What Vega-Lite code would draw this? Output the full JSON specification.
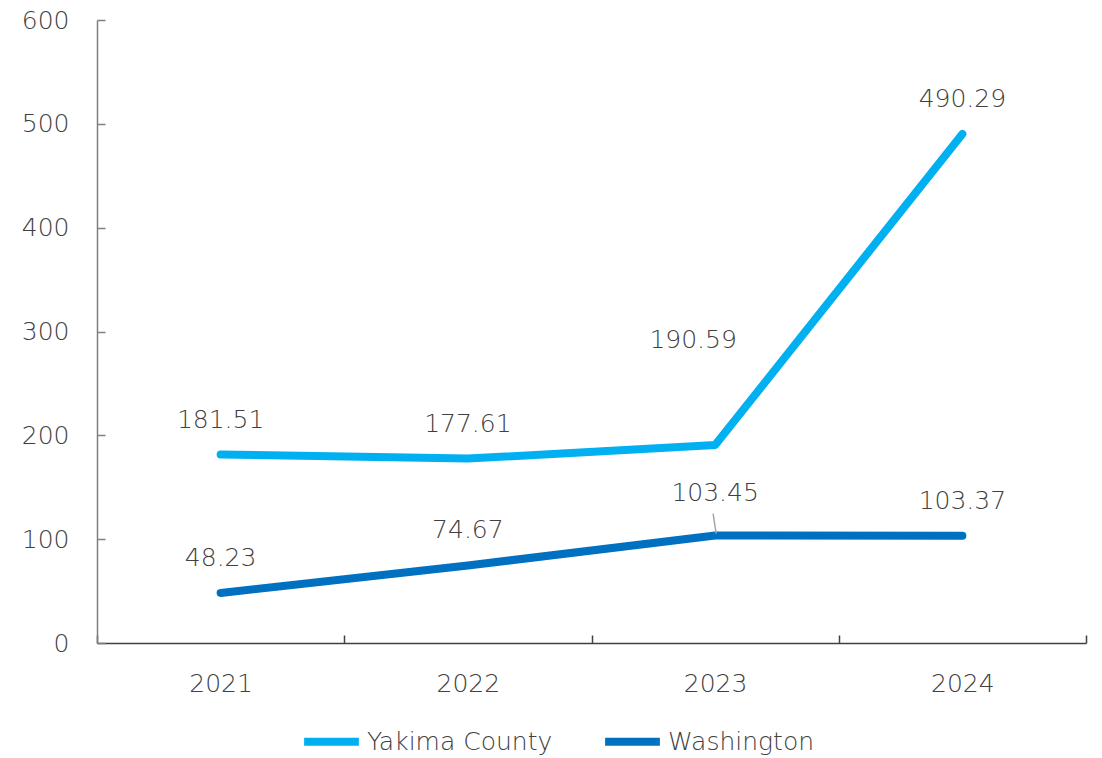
{
  "$schema": "https://vega.github.io/schema/vega-lite/v6.json",
  "autosize": {"type": "none"},
  "width": 989,
  "height": 623,
  "padding": {"left": 97, "top": 20, "right": 16, "bottom": 115},
  "background": "white",
  "config": {
    "view": {"stroke": null},
    "font": "DejaVu Sans",
    "axis": {"grid": false, "labelFont": "DejaVu Sans", "labelFontWeight": 200, "labelFontSize": 25, "labelColor": "#404040", "title": null}
  },
  "data": {"values": [
    {"year": "2021", "series": "Yakima County", "value": 181.51},
    {"year": "2022", "series": "Yakima County", "value": 177.61},
    {"year": "2023", "series": "Yakima County", "value": 190.59},
    {"year": "2024", "series": "Yakima County", "value": 490.29},
    {"year": "2021", "series": "Washington", "value": 48.23},
    {"year": "2022", "series": "Washington", "value": 74.67},
    {"year": "2023", "series": "Washington", "value": 103.45},
    {"year": "2024", "series": "Washington", "value": 103.37}
  ]},
  "encoding": {
    "x": {"field": "year", "type": "ordinal", "bandPosition": 0.5,
      "scale": {"type": "band", "paddingInner": 0, "paddingOuter": 0},
      "axis": {"labelAngle": 0, "tickBand": "extent", "tickSize": -8, "tickColor": "#404040", "tickWidth": 1.5, "domainColor": "#404040", "domainWidth": 1.5, "labelPadding": 36}},
    "y": {"field": "value", "type": "quantitative",
      "scale": {"domain": [0, 600], "nice": false},
      "axis": {"values": [0, 100, 200, 300, 400, 500, 600], "tickSize": -8, "tickColor": "#7f7f7f", "tickWidth": 1.5, "domainColor": "#7f7f7f", "domainWidth": 1.5, "labelPadding": 36}}
  },
  "layer": [
    {
      "mark": {"type": "line", "strokeWidth": 8, "strokeCap": "round", "strokeJoin": "round"},
      "encoding": {
        "color": {"field": "series", "type": "nominal",
          "scale": {"domain": ["Yakima County", "Washington"], "range": ["#00B0F0", "#0070C0"]},
          "legend": {"title": null, "orient": "none", "legendX": 203, "legendY": 690, "direction": "horizontal",
            "symbolType": "stroke", "symbolSize": 3000, "symbolStrokeWidth": 8, "labelFontSize": 25, "labelFont": "DejaVu Sans", "labelFontWeight": 200,
            "labelColor": "#404040", "labelLimit": 500, "columnPadding": 36, "labelOffset": 4, "symbolOffset": 0}}
      }
    },
    {
      "transform": [{"filter": "datum.value != 190.59 && datum.value != 103.45"}],
      "mark": {"type": "text", "dy": -35, "fontSize": 25, "fontWeight": 200, "color": "#404040", "font": "DejaVu Sans"},
      "encoding": {"text": {"field": "value", "type": "quantitative", "format": ".2f"}}
    },
    {
      "transform": [{"filter": "datum.value == 190.59"}],
      "mark": {"type": "text", "dx": -22, "dy": -105, "fontSize": 25, "fontWeight": 200, "color": "#404040", "font": "DejaVu Sans"},
      "encoding": {"text": {"field": "value", "type": "quantitative", "format": ".2f"}}
    },
    {
      "transform": [{"filter": "datum.value == 103.45"}],
      "mark": {"type": "text", "dy": -43, "fontSize": 25, "fontWeight": 200, "color": "#404040", "font": "DejaVu Sans"},
      "encoding": {"text": {"field": "value", "type": "quantitative", "format": ".2f"}}
    },
    {
      "transform": [{"filter": "datum.value == 103.45"}],
      "mark": {"type": "rule", "color": "#a6a6a6", "strokeWidth": 1.5, "xOffset": -2, "yOffset": -22, "x2Offset": 1, "y2Offset": -2},
      "encoding": {
        "x2": {"field": "year"},
        "y2": {"field": "value"}
      }
    }
  ]
}
